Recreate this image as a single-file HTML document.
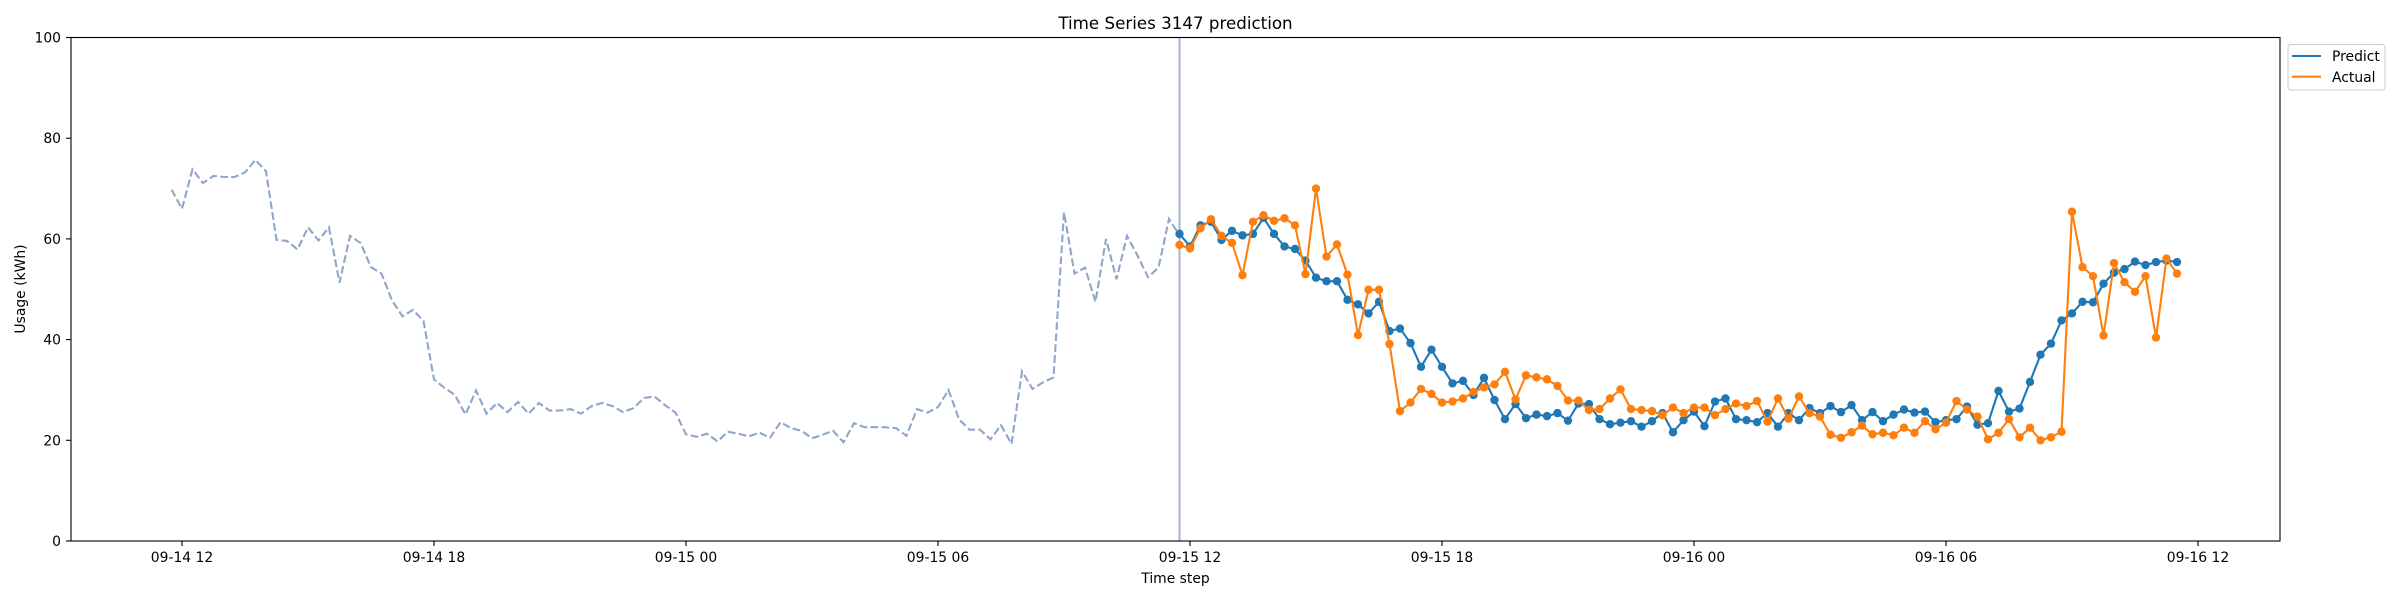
<!DOCTYPE html>
<html><head><meta charset="utf-8">
<style>
html,body{margin:0;padding:0;background:#fff;}
svg{display:block;font-family:"DejaVu Sans","Liberation Sans",sans-serif;}
</style></head>
<body>
<svg id="chart" width="2400" height="600" viewBox="0 0 2400 600" xmlns="http://www.w3.org/2000/svg">
  <rect x="0" y="0" width="2400" height="600" fill="#fff"/>
  <text x="1175.5" y="29" font-size="16.7" text-anchor="middle" fill="#000">Time Series 3147 prediction</text>
  <g id="plot"></g>
  <rect x="71" y="37.5" width="2209" height="503.5" fill="none" stroke="#000" stroke-width="1.1"/>
  <g id="xticks"></g>
  <g id="yticks"></g>
  <text x="1175.5" y="583" font-size="13.9" text-anchor="middle" fill="#000">Time step</text>
  <text transform="translate(25,289) rotate(-90)" font-size="13.9" text-anchor="middle" fill="#000">Usage (kWh)</text>
  <g>
    <rect x="2288" y="44.5" width="97" height="45.5" rx="3" fill="#fff" stroke="#ccc" stroke-width="1"/>
    <g>
      <line x1="2292" y1="56" x2="2321" y2="56" stroke="#1f77b4" stroke-width="2.1"/>
      <text x="2332" y="61" font-size="13.9" fill="#000">Predict</text>
    </g>
    <g>
      <line x1="2292" y1="76.7" x2="2321" y2="76.7" stroke="#ff7f0e" stroke-width="2.1"/>
      <text x="2332" y="82" font-size="13.9" fill="#000">Actual</text>
    </g>
  </g>
</svg>
<script>
// ---- data ----
const historyStartHour = -0.25;      // hours after 09-14 12:00 (09-14 11:45)
const forecastStartHour = 23.75;     // hours after 09-14 12:00 (09-15 11:45)
const stepHours = 0.25;
const historyValues = [69.8,66,73.8,71.1,72.5,72.3,72.3,73.2,75.7,73.4,59.8,59.6,57.9,62.3,59.7,62.3,51.3,60.6,59.2,54.4,53.1,47.8,44.6,45.9,43.7,32.1,30.4,29.0,25.1,29.9,25.3,27.4,25.6,27.6,25.3,27.4,25.9,25.9,26.2,25.3,26.8,27.4,26.8,25.6,26.4,28.4,28.7,27.0,25.5,21.2,20.7,21.3,19.8,21.7,21.3,20.8,21.5,20.5,23.6,22.4,21.9,20.4,21.1,21.9,19.6,23.4,22.6,22.6,22.6,22.4,20.9,26.2,25.5,26.6,30.0,24.2,22.1,22.1,20.2,23.0,19.3,33.7,30.2,31.5,32.5,65.3,53.1,54.3,47.5,60.0,52.0,60.6,56.7,52.4,54.3,64.0,60.7];
const predictValues = [61.0,58.5,62.7,63.4,59.8,61.6,60.7,61.0,64.2,61.0,58.5,58.0,55.7,52.3,51.6,51.6,47.9,47.0,45.2,47.5,41.7,42.2,39.3,34.6,38.0,34.6,31.3,31.8,29.0,32.4,28.0,24.2,27.2,24.4,25.1,24.8,25.4,23.9,27.3,27.2,24.2,23.2,23.5,23.8,22.7,23.8,25.4,21.6,24.0,25.7,22.8,27.7,28.3,24.2,24.0,23.6,25.4,22.7,25.4,24.0,26.4,25.4,26.8,25.6,27.0,24.0,25.6,23.8,25.1,26.1,25.5,25.7,23.6,24.0,24.2,26.7,23.1,23.4,29.8,25.7,26.3,31.6,37.0,39.2,43.8,45.2,47.5,47.4,51.1,53.3,54.0,55.5,54.8,55.4,55.7,55.4];
const actualValues = [58.8,58.1,62.1,63.9,60.6,59.2,52.8,63.4,64.7,63.6,64.1,62.7,53.0,70.0,56.5,58.9,52.9,40.9,49.9,49.9,39.1,25.8,27.5,30.2,29.2,27.5,27.7,28.3,29.6,30.5,31.1,33.6,28.1,32.9,32.5,32.1,30.8,27.9,27.9,26.0,26.2,28.3,30.1,26.2,26.0,25.8,25.0,26.5,25.4,26.5,26.5,25.0,26.2,27.3,26.8,27.8,23.7,28.3,24.3,28.7,25.4,24.7,21.1,20.5,21.6,22.9,21.2,21.5,21.0,22.5,21.5,23.8,22.2,23.5,27.8,26.1,24.7,20.2,21.5,24.2,20.6,22.5,20.0,20.6,21.7,65.4,54.4,52.6,40.8,55.2,51.4,49.5,52.6,40.4,56.1,53.1];
const xTickHours = [0,6,12,18,24,30,36,42,48];
const xTickLabels = ["09-14 12","09-14 18","09-15 00","09-15 06","09-15 12","09-15 18","09-16 00","09-16 06","09-16 12"];
const yTickValues = [0,20,40,60,80,100];

// ---- axes ----
const NS = "http://www.w3.org/2000/svg";
const X0 = 182, PXH = 42;           // pixel of 09-14 12, px per hour
const Y0 = 541, Y1 = 37.5;
function xScale(h){ return X0 + h*PXH; }
function yScale(v){ return Y0 - (v/100)*(Y0-Y1); }
function mk(tag, attrs, parent){ const e=document.createElementNS(NS,tag); for(const k in attrs) e.setAttribute(k,attrs[k]); parent.appendChild(e); return e; }

const plot = document.getElementById('plot');
const xt = document.getElementById('xticks');
const yt = document.getElementById('yticks');

xTickHours.forEach((h,i)=>{
  const x = xScale(h);
  const g = mk('g',{},xt);
  
  
  mk('line',{x1:x,y1:Y0,x2:x,y2:Y0+5,stroke:'#000','stroke-width':1.1},g);
  const t = mk('text',{x:x,y:562,'font-size':13.9,'text-anchor':'middle',fill:'#000'},g);
  t.textContent = xTickLabels[i];
});
yTickValues.forEach(v=>{
  const y = yScale(v);
  const g = mk('g',{},yt);
  
  
  mk('line',{x1:71-5,y1:y,x2:71,y2:y,stroke:'#000','stroke-width':1.1},g);
  const t = mk('text',{x:61,y:y+5,'font-size':13.9,'text-anchor':'end',fill:'#000'},g);
  t.textContent = String(v);
});

// history dashed line
const hpts = historyValues.map((v,i)=>xScale(historyStartHour+i*stepHours).toFixed(1)+','+yScale(v).toFixed(1)).join(' ');
const hl = mk('polyline',{points:hpts,fill:'none',stroke:'#8fa6c9','stroke-width':2.1,'stroke-dasharray':'7.7,3.3'},plot);



// vertical forecast-start line
const vx = xScale(forecastStartHour);
const vl = mk('line',{x1:vx,y1:Y1,x2:vx,y2:Y0,stroke:'#a3b3d3','stroke-width':2},plot);



function series(vals,color,name){
  const g = mk('g',{},plot);
  
  
  const pts = vals.map((v,i)=>xScale(forecastStartHour+i*stepHours).toFixed(1)+','+yScale(v).toFixed(1)).join(' ');
  mk('polyline',{points:pts,fill:'none',stroke:color,'stroke-width':2.1,'stroke-linejoin':'round'},g);
  vals.forEach((v,i)=>{
    const c = mk('circle',{cx:xScale(forecastStartHour+i*stepHours),cy:yScale(v),r:4.2,fill:color},g);
    
    
  });
}
series(predictValues,'#1f77b4','predict');
series(actualValues,'#ff7f0e','actual');
</script>
</body></html>
